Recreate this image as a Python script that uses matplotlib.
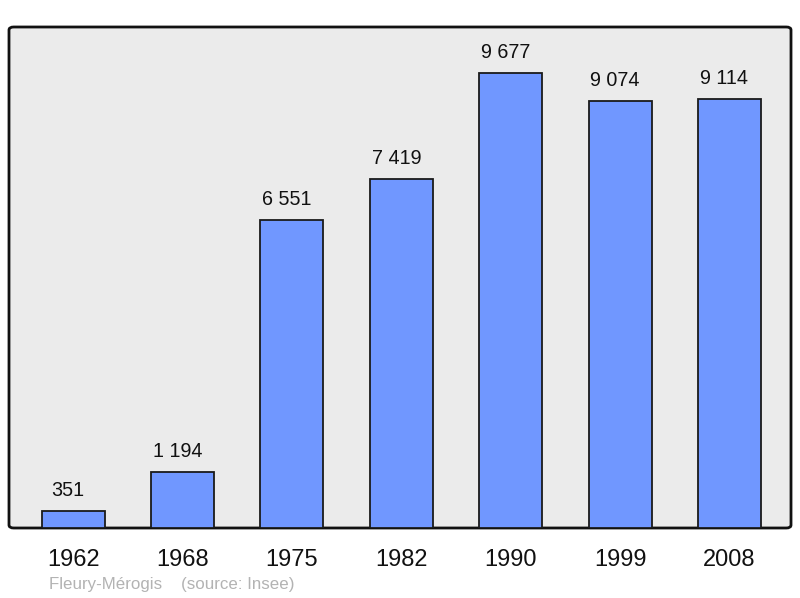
import matplotlib
matplotlib.use("Agg")
import matplotlib.pyplot as plt
from matplotlib.patches import FancyBboxPatch

plt.rcParams['font.family'] = ['Liberation Sans', 'DejaVu Sans']

years = ['1962', '1968', '1975', '1982', '1990', '1999', '2008']
population = [351, 1194, 6551, 7419, 9677, 9074, 9114]
labels = ['351', '1 194', '6 551', '7 419', '9 677', '9 074', '9 114']

fig = plt.figure(figsize=(8, 5.98), dpi=100)
ax = fig.add_axes([9 / 800, 1 - 528 / 598, 782 / 800, 501 / 598])
ax.set_facecolor('none')

# rounded frame
frame = FancyBboxPatch((0, 0), 1, 1, boxstyle='round,pad=0,rounding_size=0.006',
                       transform=ax.transAxes, facecolor='#ebebeb', edgecolor='#111111',
                       linewidth=2, zorder=0, clip_on=False)
ax.add_patch(frame)

x = list(range(len(years)))
bars = ax.bar(x, population, width=0.576, color='#7097ff', edgecolor='#1a1a1a',
              linewidth=1.3, zorder=2)
for xi, v, lab in zip(x, population, labels):
    ax.text(xi - 0.045, v + 440, lab, ha='center', va='center', fontsize=14.2,
            color='#111111')

ax.set_xlim(-0.586, 6.563)
ax.set_ylim(0, 10655)
for s in ax.spines.values():
    s.set_visible(False)
ax.set_xticks(x)
ax.set_xticklabels(years, fontsize=17, color='#111111')
ax.tick_params(axis='x', length=0, pad=15)
ax.set_yticks([])

fig.text(49 / 800, 1 - 584 / 598, 'Fleury-Mérogis    (source: Insee)', fontsize=12.2,
         color='#b3b3b3', ha='left', va='center')

fig.savefig('out.png', dpi=100)
